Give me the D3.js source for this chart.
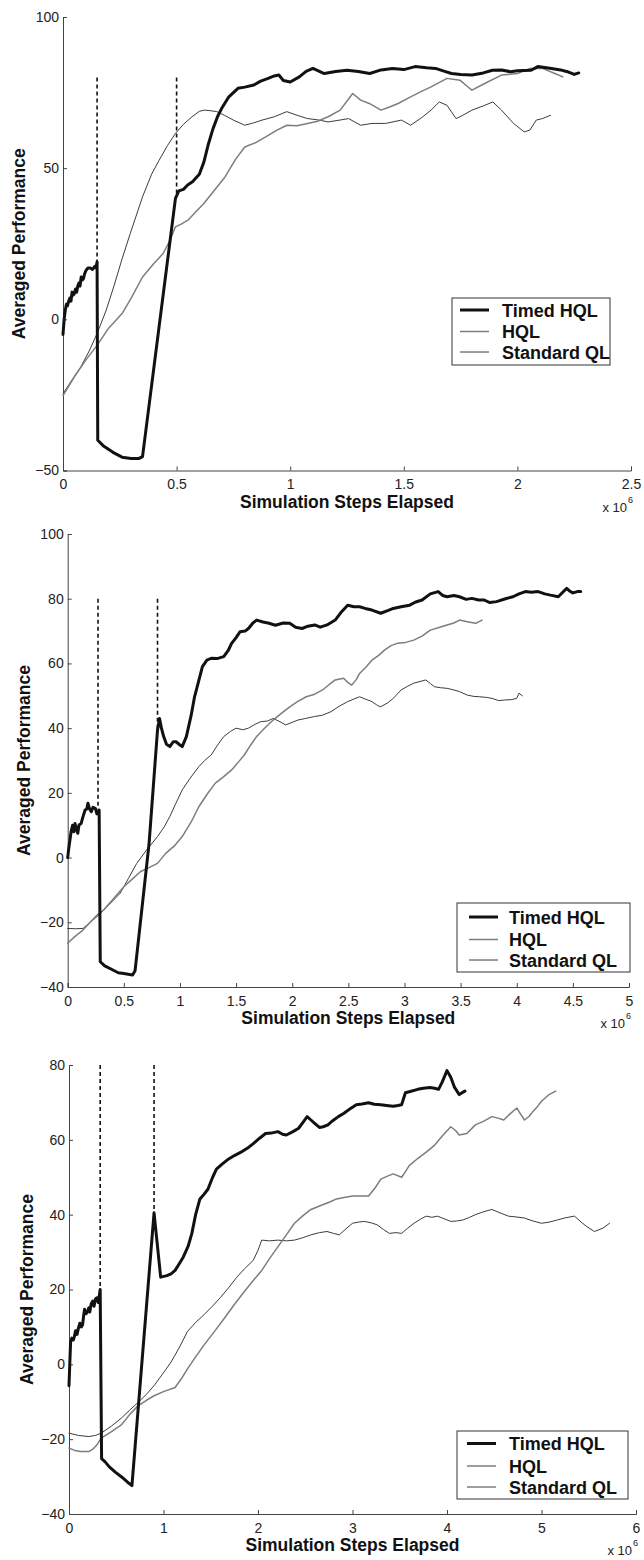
<!DOCTYPE html>
<html><head><meta charset="utf-8">
<script src="https://cdn.jsdelivr.net/npm/d3@7"></script>
<style>body{margin:0;background:#fff}svg{display:block}</style>
</head><body><svg id="c" width="644" height="1560"></svg>
<script>
// ---------- data (x in millions of steps, y = averaged performance) ----------
const seriesNames = ["Timed HQL", "HQL", "Standard QL"];

// Panel 1
const p1XTicks = [0, 0.5, 1, 1.5, 2, 2.5];
const p1YTicks = [-50, 0, 50, 100];
const p1Timed = [[0,-5],[0.005,0],[0.01,3],[0.015,5],[0.02,4.5],[0.025,6],[0.03,7],[0.035,6],[0.04,9],[0.045,8],[0.05,8.5],[0.055,10],[0.06,9],[0.065,11],[0.07,12],[0.075,11],[0.08,14],[0.085,13],[0.09,13.5],[0.095,15],[0.1,16],[0.11,17],[0.12,17],[0.13,16.5],[0.14,17.5],[0.145,17],[0.15,19],[0.153,-40],[0.18,-42],[0.22,-44],[0.26,-45.6],[0.3,-46],[0.335,-46],[0.35,-45.4],[0.495,40],[0.51,42.5],[0.53,43],[0.55,44.5],[0.57,45.5],[0.6,48],[0.62,52],[0.64,58],[0.66,63],[0.68,67],[0.7,70],[0.73,73.6],[0.77,76.4],[0.8,76.8],[0.84,77.5],[0.87,78.8],[0.9,79.6],[0.93,80.5],[0.95,80.8],[0.97,79],[1.0,78.5],[1.04,80.2],[1.07,82],[1.1,83],[1.15,81.3],[1.2,82],[1.25,82.4],[1.3,82],[1.35,81.3],[1.4,82.5],[1.45,83],[1.5,82.6],[1.55,83.6],[1.6,83.2],[1.64,83],[1.68,82],[1.71,81.3],[1.75,81],[1.8,80.8],[1.85,81.5],[1.89,82.4],[1.93,82.5],[1.97,81.9],[2.0,82.2],[2.06,82.4],[2.09,83.6],[2.15,83],[2.19,82.5],[2.22,81.9],[2.25,81],[2.27,81.5]];
const p1HQL = [[0,-25.2],[0.05,-19],[0.1,-13.5],[0.15,-8.6],[0.2,-3],[0.26,1.9],[0.3,7],[0.35,14],[0.4,18.5],[0.44,21.7],[0.47,26],[0.495,30.6],[0.52,31.5],[0.55,32.8],[0.59,36],[0.62,38.3],[0.67,43],[0.713,47.1],[0.76,53],[0.8,57],[0.85,58.5],[0.894,60.4],[0.94,62.5],[0.985,64.2],[1.03,64],[1.076,64.8],[1.12,65.5],[1.167,67],[1.22,69.2],[1.275,74.7],[1.31,72.5],[1.348,71.4],[1.4,69.2],[1.44,70.3],[1.475,71.4],[1.53,73.6],[1.58,75.5],[1.62,76.9],[1.69,79.7],[1.747,79.1],[1.78,77],[1.8,75.8],[1.856,78],[1.93,80.8],[2.0,81.3],[2.055,83],[2.11,83],[2.165,81.3],[2.2,80.2]];
const p1SQL = [[0,-24.6],[0.04,-20],[0.078,-15.8],[0.115,-10.5],[0.15,-4.7],[0.19,3],[0.223,10.7],[0.26,20],[0.296,28.4],[0.33,36],[0.35,40.5],[0.39,48],[0.423,52.6],[0.46,57.5],[0.495,61.5],[0.53,64.5],[0.568,67],[0.6,68.8],[0.622,69.2],[0.65,69],[0.677,68.7],[0.71,67.5],[0.75,65.9],[0.8,64.2],[0.84,65],[0.876,65.9],[0.93,67],[0.985,68.7],[1.03,67.5],[1.076,66.4],[1.12,66],[1.167,65.3],[1.21,65.8],[1.257,66.4],[1.31,64.2],[1.36,64.8],[1.42,64.8],[1.49,65.9],[1.53,64.2],[1.58,66.8],[1.62,69.2],[1.656,71.9],[1.69,70.8],[1.73,66.4],[1.76,67.5],[1.8,69.2],[1.85,70.6],[1.892,71.9],[1.93,69.2],[1.983,64.8],[2.03,62],[2.055,62.6],[2.083,65.9],[2.11,66.4],[2.146,67.5]];
const p1Dashed = [[0.15, 80, 19], [0.5, 80, 41]];

// Panel 2
const p2XTicks = [0, 0.5, 1, 1.5, 2, 2.5, 3, 3.5, 4, 4.5, 5];
const p2YTicks = [-40, -20, 0, 20, 40, 60, 80, 100];
const p2Timed = [[0,0],[0.01,3],[0.02,5.4],[0.03,8],[0.044,10],[0.055,8],[0.065,10.5],[0.08,8.5],[0.09,7.5],[0.1,10],[0.12,10.6],[0.135,12.5],[0.155,14.7],[0.17,15],[0.18,16.8],[0.195,15],[0.21,14.2],[0.225,15.5],[0.247,15.2],[0.26,13.5],[0.28,14.7],[0.29,-32.2],[0.33,-33.5],[0.394,-34.6],[0.45,-35.6],[0.5,-35.8],[0.578,-36.3],[0.6,-35],[0.725,4.4],[0.8,39.4],[0.818,43],[0.835,40],[0.855,37.4],[0.88,35],[0.91,34.3],[0.94,35.8],[0.965,35.8],[1.0,34.8],[1.02,34.3],[1.057,37.4],[1.1,44],[1.13,49.7],[1.17,55],[1.2,59],[1.24,61],[1.278,61.6],[1.33,61.5],[1.39,62.1],[1.43,64],[1.46,66.2],[1.5,68],[1.536,69.8],[1.58,70],[1.61,70.8],[1.65,72.5],[1.683,73.4],[1.74,72.8],[1.794,72.4],[1.85,71.8],[1.92,72.5],[1.978,72.4],[2.03,71.2],[2.088,70.8],[2.14,71.5],[2.2,71.9],[2.25,71.2],[2.31,71.9],[2.383,73.4],[2.44,76],[2.494,78],[2.55,77.5],[2.6,77.5],[2.65,77],[2.71,76.5],[2.788,75.5],[2.85,76.3],[2.9,77],[2.97,77.5],[3.046,78],[3.1,79],[3.157,79.6],[3.23,81.5],[3.3,82.2],[3.34,81],[3.38,80.6],[3.44,81],[3.49,80.6],[3.55,79.8],[3.6,80.1],[3.66,79.6],[3.71,79.6],[3.76,78.8],[3.82,79.1],[3.9,80],[3.967,80.6],[4.02,81.5],[4.077,82.2],[4.13,82],[4.19,82.2],[4.25,81.5],[4.3,81.1],[4.37,80.6],[4.41,82],[4.445,83.2],[4.47,82.4],[4.5,81.8],[4.54,82.2],[4.57,82.2]];
const p2HQL = [[0,-26.5],[0.06,-24.5],[0.136,-22.4],[0.2,-20],[0.26,-17.8],[0.32,-16.2],[0.4,-13],[0.5,-9],[0.57,-6.8],[0.65,-4.3],[0.72,-3.2],[0.8,-1.8],[0.873,1.3],[0.95,3.6],[1.02,6.5],[1.1,11],[1.168,15.7],[1.24,19.5],[1.315,23],[1.39,25],[1.46,27.1],[1.52,29.5],[1.573,31.7],[1.63,34.8],[1.683,37.4],[1.76,40.2],[1.83,42.5],[1.9,44.5],[1.978,46.6],[2.05,48.3],[2.125,49.7],[2.2,50.5],[2.27,51.8],[2.33,53.5],[2.383,54.9],[2.457,55.4],[2.5,54],[2.53,53.3],[2.57,55],[2.6,56.9],[2.66,59],[2.71,61],[2.77,62.5],[2.825,64.2],[2.88,65.5],[2.935,66.2],[3.01,66.5],[3.083,67.2],[3.16,68.5],[3.23,70.3],[3.3,71],[3.38,71.9],[3.44,72.5],[3.49,73.4],[3.56,72.9],[3.635,72.4],[3.69,73.4]];
const p2SQL = [[0,-21.9],[0.07,-22],[0.136,-21.9],[0.2,-20],[0.28,-17.7],[0.37,-14.5],[0.468,-11],[0.54,-6.5],[0.615,-1.8],[0.7,2.2],[0.8,6.5],[0.86,9.5],[0.91,12.7],[0.96,16.5],[1.02,20.9],[1.09,24.5],[1.168,28.1],[1.22,30],[1.278,31.7],[1.33,34.5],[1.39,37.4],[1.45,39],[1.5,40],[1.56,39.5],[1.61,40],[1.67,41.2],[1.72,42],[1.78,42.2],[1.83,43],[1.89,42],[1.94,41],[2.0,41.8],[2.05,42.5],[2.12,43],[2.2,43.6],[2.27,44],[2.346,45.1],[2.42,46.8],[2.494,48.2],[2.55,49],[2.6,49.7],[2.65,49],[2.71,48.2],[2.76,47],[2.788,46.6],[2.85,47.8],[2.9,49.2],[2.97,51.8],[3.03,53],[3.083,53.9],[3.19,54.9],[3.23,53.8],[3.267,52.8],[3.32,52.5],[3.38,52.3],[3.44,51.8],[3.49,51.3],[3.56,50.2],[3.62,49.8],[3.67,49.7],[3.73,49.5],[3.78,49.2],[3.84,48.5],[3.89,48.7],[3.95,48.8],[4.0,49.2],[4.02,50.8],[4.05,50]];
const p2Dashed = [[0.27, 80, 15], [0.8, 80, 40]];

// Panel 3
const p3XTicks = [0, 1, 2, 3, 4, 5, 6];
const p3YTicks = [-40, -20, 0, 20, 40, 60, 80];
const p3Timed = [[0,-5.7],[0.008,0],[0.017,6],[0.03,7],[0.045,6.5],[0.057,7.4],[0.07,9],[0.085,8],[0.1,9.7],[0.115,11],[0.13,10],[0.144,10.6],[0.155,13],[0.165,14.7],[0.18,13.5],[0.195,14],[0.21,15.1],[0.22,14],[0.235,16.2],[0.25,16.9],[0.265,15.5],[0.28,17.5],[0.296,17.8],[0.31,16.5],[0.33,20],[0.345,-25.2],[0.38,-26],[0.427,-27.4],[0.49,-28.8],[0.557,-30.1],[0.62,-31.5],[0.666,-32.4],[0.9,40.5],[0.97,23.3],[1.036,23.7],[1.08,24.2],[1.123,25.1],[1.17,27],[1.21,28.7],[1.26,31.5],[1.3,35],[1.34,40],[1.384,44.1],[1.43,45.5],[1.47,46.8],[1.52,50],[1.56,52.2],[1.62,53.5],[1.69,54.9],[1.75,55.8],[1.82,56.7],[1.89,57.8],[1.95,59],[2.02,60.5],[2.08,61.7],[2.14,61.8],[2.21,62.2],[2.26,61.5],[2.3,61.3],[2.37,62.2],[2.43,63.1],[2.48,64.8],[2.52,66.2],[2.56,65.3],[2.6,64.4],[2.65,63.3],[2.69,63.5],[2.74,64],[2.78,64.9],[2.85,66.2],[2.91,67.1],[2.98,68.4],[3.04,69.4],[3.1,69.6],[3.17,69.9],[3.23,69.5],[3.3,69.4],[3.36,69.2],[3.43,69],[3.48,69.2],[3.52,69.4],[3.56,72.6],[3.62,73],[3.69,73.5],[3.75,73.8],[3.82,74],[3.87,73.8],[3.91,73.5],[3.95,75.5],[4.0,78.5],[4.04,76.7],[4.08,74],[4.13,72.1],[4.16,72.6],[4.19,73]];
const p3HQL = [[0,-22.4],[0.06,-23],[0.12,-23.3],[0.21,-23.3],[0.26,-22.5],[0.296,-21.5],[0.34,-19.7],[0.45,-18],[0.557,-16.1],[0.64,-13.5],[0.73,-11.1],[0.82,-9.6],[0.9,-8.4],[1.0,-7.3],[1.123,-6.2],[1.19,-3.8],[1.254,-1.2],[1.34,2],[1.43,5.2],[1.54,8.8],[1.646,12.4],[1.75,16],[1.86,19.6],[1.95,22.4],[2.04,25.1],[2.12,28.2],[2.21,31.4],[2.3,34.6],[2.386,37.7],[2.47,39.6],[2.56,41.4],[2.62,42],[2.69,42.7],[2.76,43.4],[2.82,44.1],[2.91,44.6],[3.0,45],[3.08,45],[3.17,45],[3.24,47.2],[3.3,49.5],[3.37,50.3],[3.43,50.9],[3.52,50],[3.56,51.5],[3.6,53.1],[3.69,55],[3.78,56.7],[3.87,58.6],[3.95,61],[4.04,63.5],[4.09,62.5],[4.13,61.3],[4.21,61.7],[4.3,64],[4.39,65],[4.475,66.2],[4.54,65.8],[4.6,65.3],[4.67,67],[4.74,68.5],[4.78,66.8],[4.82,65.3],[4.87,66.3],[4.91,67.6],[4.96,69],[5.0,70.3],[5.08,72.1],[5.15,73]];
const p3SQL = [[0,-18.4],[0.1,-19],[0.21,-19.3],[0.28,-19],[0.34,-18.4],[0.45,-16.5],[0.557,-14.3],[0.64,-12.3],[0.73,-10.2],[0.82,-8],[0.9,-5.7],[0.99,-2.6],[1.08,0.6],[1.17,4.6],[1.254,8.8],[1.34,11.2],[1.43,13.3],[1.52,15.6],[1.6,17.8],[1.69,20.5],[1.776,23.3],[1.86,25.6],[1.95,27.8],[2.0,30.5],[2.04,33.2],[2.12,33],[2.21,33.2],[2.3,33],[2.386,33.2],[2.47,33.8],[2.56,34.6],[2.65,35.2],[2.73,35.5],[2.8,35],[2.86,34.6],[2.93,36.2],[3.0,37.7],[3.06,38],[3.125,38.2],[3.2,37.8],[3.26,37.3],[3.33,36],[3.39,35],[3.46,35.2],[3.52,35],[3.58,36.3],[3.65,37.7],[3.72,38.8],[3.78,39.6],[3.84,39.3],[3.9,39.6],[3.97,38.9],[4.04,38.2],[4.1,38.3],[4.17,38.6],[4.24,39.3],[4.3,40],[4.39,40.8],[4.475,41.4],[4.56,40.5],[4.65,39.6],[4.73,39.4],[4.82,39.1],[4.91,38.3],[5.0,37.7],[5.08,38],[5.17,38.6],[5.26,39.2],[5.35,39.6],[5.42,38],[5.48,36.8],[5.56,35.5],[5.65,36.4],[5.72,37.7]];
const p3Dashed = [[0.33, 80, 20], [0.9, 80, 40]];

// ---------- drawing ----------
const svg = d3.select("#c");
svg.append("rect").attr("width", 644).attr("height", 1560).attr("fill", "#fff");
const FONT = "'Liberation Sans', Arial, Helvetica, sans-serif";
const styles = [
  {color: "#111", width: 3.0},
  {color: "#7d7d7d", width: 1.5},
  {color: "#3c3c3c", width: 1.0}
];

const panels = [
  {series: [p1Timed, p1HQL, p1SQL], dashed: p1Dashed, xDom: [0, 2.5], yDom: [-50, 100], xTicks: p1XTicks, yTicks: p1YTicks,
   xr: [63, 631], yr: [470.5, 17], legend: {x: 452, y: 298, w: 158, h: 67, rows: [310, 331.5, 352], lx: 460, tx: 502}, ylabX: 25},
  {series: [p2Timed, p2HQL, p2SQL], dashed: p2Dashed, xDom: [0, 5], yDom: [-40, 100], xTicks: p2XTicks, yTicks: p2YTicks,
   xr: [67.7, 629], yr: [987, 534], legend: {x: 457, y: 903, w: 173, h: 69, rows: [917, 939.5, 960], lx: 469, tx: 509}, ylabX: 30},
  {series: [p3Timed, p3HQL, p3SQL], dashed: p3Dashed, xDom: [0, 6], yDom: [-40, 80], xTicks: p3XTicks, yTicks: p3YTicks,
   xr: [69, 636], yr: [1514, 1065], legend: {x: 457, y: 1431, w: 171, h: 68, rows: [1443.5, 1466, 1487], lx: 467, tx: 509}, ylabX: 33}
];

panels.forEach(p => {
  const x = d3.scaleLinear().domain(p.xDom).range(p.xr);
  const y = d3.scaleLinear().domain(p.yDom).range(p.yr);
  const g = svg.append("g");

  // axes (MATLAB style, inward ticks, left & bottom only)
  const xAxis = d3.axisBottom(x).tickValues(p.xTicks).tickSize(-4).tickPadding(9).tickFormat(d3.format("~g"));
  const yAxis = d3.axisLeft(y).tickValues(p.yTicks).tickSize(-4).tickPadding(4).tickFormat(d3.format("~g"));
  const gx = g.append("g").attr("transform", `translate(0,${p.yr[0]})`).call(xAxis);
  const gy = g.append("g").attr("transform", `translate(${p.xr[0]},0)`).call(yAxis);
  [gx, gy].forEach(a => {
    a.select(".domain").attr("stroke", "#444").attr("stroke-width", 1);
    a.selectAll(".tick line").attr("stroke", "#444");
    a.selectAll(".tick text").attr("fill", "#222").style("font-family", FONT).style("font-size", "14px");
  });

  // dashed markers
  g.selectAll(".dash").data(p.dashed).enter().append("line")
    .attr("x1", d => x(d[0])).attr("x2", d => x(d[0]))
    .attr("y1", d => y(d[1])).attr("y2", d => y(d[2]))
    .attr("stroke", "#111").attr("stroke-width", 1.6).attr("stroke-dasharray", "4,3");

  // curves (draw thin ones first, Timed HQL on top)
  const line = d3.line().x(d => x(d[0])).y(d => y(d[1]));
  [2, 1, 0].forEach(i => {
    g.append("path").datum(p.series[i]).attr("d", line)
      .attr("fill", "none").attr("stroke", styles[i].color).attr("stroke-width", styles[i].width)
      .attr("stroke-linejoin", "round").attr("stroke-linecap", "round");
  });

  // axis labels
  const xc = (p.xr[0] + p.xr[1]) / 2, yc = (p.yr[0] + p.yr[1]) / 2;
  g.append("text").attr("x", xc).attr("y", p.yr[0] + 37).attr("text-anchor", "middle")
    .style("font-family", FONT).style("font-size", "17.5px").style("font-weight", "bold").attr("fill", "#111")
    .text("Simulation Steps Elapsed");
  g.append("text").attr("transform", `translate(${p.ylabX},${yc}) rotate(-90)`).attr("text-anchor", "middle")
    .style("font-family", FONT).style("font-size", "17.5px").style("font-weight", "bold").attr("fill", "#111")
    .text("Averaged Performance");
  g.append("text").attr("x", p.xr[1] - 4).attr("y", p.yr[0] + 41).attr("text-anchor", "end")
    .style("font-family", FONT).style("font-size", "13px").attr("fill", "#222").text("x 10");
  g.append("text").attr("x", p.xr[1] - 3).attr("y", p.yr[0] + 32)
    .style("font-family", FONT).style("font-size", "9px").attr("fill", "#222").text("6");

  // legend
  const L = p.legend;
  g.append("rect").attr("x", L.x).attr("y", L.y).attr("width", L.w).attr("height", L.h)
    .attr("fill", "#fff").attr("stroke", "#333").attr("stroke-width", 1);
  seriesNames.forEach((name, i) => {
    g.append("line").attr("x1", L.lx).attr("x2", L.lx + 29).attr("y1", L.rows[i]).attr("y2", L.rows[i])
      .attr("stroke", styles[i].color).attr("stroke-width", styles[i].width);
    g.append("text").attr("x", L.tx).attr("y", L.rows[i] + 6.5)
      .style("font-family", FONT).style("font-size", "18px").style("font-weight", "bold").attr("fill", "#111")
      .text(name);
  });
});
</script>
</body></html>
